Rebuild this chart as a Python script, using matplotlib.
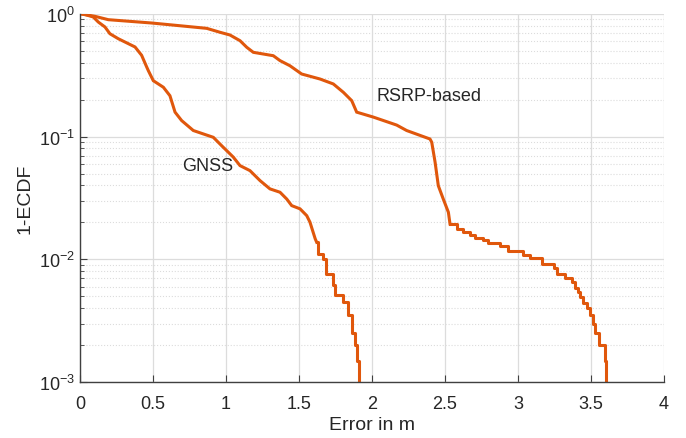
import matplotlib
matplotlib.use("Agg")
import matplotlib.pyplot as plt
from matplotlib.ticker import LogLocator, FixedLocator, NullFormatter

# error (m) and 1-ECDF
# smooth upper part of each curve
gnss_err = [0.0, 0.04, 0.091, 0.125, 0.171, 0.205, 0.262, 0.377, 0.422, 0.457,
            0.468, 0.502, 0.571, 0.616, 0.651, 0.696, 0.776, 0.845, 0.913, 0.970,
            1.05, 1.096, 1.164, 1.233, 1.301, 1.370, 1.416, 1.45, 1.507, 1.553,
            1.575, 1.611, 1.621]
gnss_ccdf = [1.0, 0.98, 0.94, 0.856, 0.78, 0.687, 0.626, 0.536, 0.459, 0.368,
             0.344, 0.285, 0.252, 0.215, 0.158, 0.135, 0.112, 0.105, 0.0986, 0.0843,
             0.068, 0.058, 0.0528, 0.0438, 0.0375, 0.0352, 0.031, 0.0274, 0.0258, 0.0227,
             0.0201, 0.0147, 0.0138]
# stepped tail: (error where it drops, value after the drop)
gnss_tail_err = [1.621, 1.632, 1.667, 1.685, 1.735, 1.747, 1.80, 1.838, 1.862, 1.884,
                 1.894, 1.911]
gnss_tail_ccdf = [0.0138, 0.0110, 0.0101, 0.0076, 0.0062, 0.0051, 0.0045, 0.0035, 0.0025, 0.0020,
                  0.0015, 0.0009]

rsrp_err = [0.0, 0.103, 0.194, 0.491, 0.685, 0.868, 0.959, 1.027, 1.096, 1.142,
            1.187, 1.324, 1.37, 1.438, 1.518, 1.644, 1.735, 1.804, 1.861, 1.895,
            2.009, 2.169, 2.237, 2.397, 2.409, 2.432, 2.454, 2.488, 2.523, 2.534]
rsrp_ccdf = [1.0, 0.952, 0.894, 0.84, 0.798, 0.76, 0.706, 0.671, 0.603, 0.533,
             0.485, 0.455, 0.415, 0.377, 0.323, 0.294, 0.268, 0.229, 0.196, 0.158,
             0.144, 0.124, 0.112, 0.0955, 0.0899, 0.0618, 0.0398, 0.031, 0.0242, 0.0195]
rsrp_tail_err = [2.534, 2.579, 2.625, 2.671, 2.705, 2.762, 2.796, 2.877, 2.934, 3.037,
                 3.082, 3.162, 3.243, 3.27, 3.322, 3.368, 3.39, 3.41, 3.425, 3.447,
                 3.47, 3.49, 3.51, 3.527, 3.557, 3.596, 3.603]
rsrp_tail_ccdf = [0.0195, 0.0177, 0.0166, 0.0158, 0.0149, 0.0144, 0.0137, 0.0128, 0.0118, 0.0109,
                  0.0102, 0.0092, 0.0085, 0.0076, 0.0070, 0.0066, 0.0059, 0.0054, 0.0049, 0.0044,
                  0.0040, 0.0035, 0.0030, 0.0025, 0.0020, 0.0015, 0.0009]

x_ticks = [0, 0.5, 1, 1.5, 2, 2.5, 3, 3.5, 4]
x_tick_labels = ['0', '0.5', '1', '1.5', '2', '2.5', '3', '3.5', '4']
y_ticks = [1e-3, 1e-2, 1e-1, 1e0]
y_tick_labels = [r'$\mathregular{10^{-3}}$', r'$\mathregular{10^{-2}}$',
                 r'$\mathregular{10^{-1}}$', r'$\mathregular{10^{0}}$']

plt.rcParams['font.family'] = ['Liberation Sans', 'DejaVu Sans']
plt.rcParams['mathtext.default'] = 'regular'

line_color = '#e0570c'
axis_color = '#404040'
text_color = '#262626'
lw = 2.2

fig = plt.figure(figsize=(6.86, 4.39), dpi=100)
ax = fig.add_axes([0.1166, 0.127, 0.8514, 0.8395])

ax.plot(gnss_err, gnss_ccdf, color=line_color, lw=lw, solid_joinstyle='miter')
ax.plot(gnss_tail_err, gnss_tail_ccdf, color=line_color, lw=lw, drawstyle='steps-post')
ax.plot(rsrp_err, rsrp_ccdf, color=line_color, lw=lw, solid_joinstyle='miter')
ax.plot(rsrp_tail_err, rsrp_tail_ccdf, color=line_color, lw=lw, drawstyle='steps-post')

ax.set_yscale('log')
ax.set_xlim(0, 4)
ax.set_ylim(1e-3, 1)

ax.xaxis.set_major_locator(FixedLocator(x_ticks))
ax.set_xticklabels(x_tick_labels)
ax.yaxis.set_major_locator(FixedLocator(y_ticks))
ax.set_yticklabels(y_tick_labels)
ax.yaxis.set_minor_locator(LogLocator(base=10, subs=range(2, 10)))
ax.yaxis.set_minor_formatter(NullFormatter())

ax.grid(True, which='major', color='#dcdcdc', lw=0.9, ls='-')
ax.grid(True, which='minor', axis='y', color='#dcdcdc', lw=0.8, ls=':')
ax.set_axisbelow(True)

for side in ['top', 'right']:
    ax.spines[side].set_visible(False)
for side in ['left', 'bottom']:
    ax.spines[side].set_color(axis_color)
    ax.spines[side].set_linewidth(1.0)

ax.tick_params(which='both', direction='in', colors=axis_color, labelcolor=text_color,
               labelsize=13)
ax.tick_params(which='major', length=5)
ax.tick_params(which='minor', length=3)
ax.tick_params(axis='x', pad=9)

ax.set_xlabel('Error in m', fontsize=14, color=text_color, labelpad=3)
ax.set_ylabel('1-ECDF', fontsize=14, color=text_color, labelpad=4)

ax.text(2.032, 0.215, 'RSRP-based', fontsize=13, color=text_color, ha='left', va='center')
ax.text(0.697, 0.058, 'GNSS', fontsize=13, color=text_color, ha='left', va='center')

fig.savefig('out.png', dpi=100)
